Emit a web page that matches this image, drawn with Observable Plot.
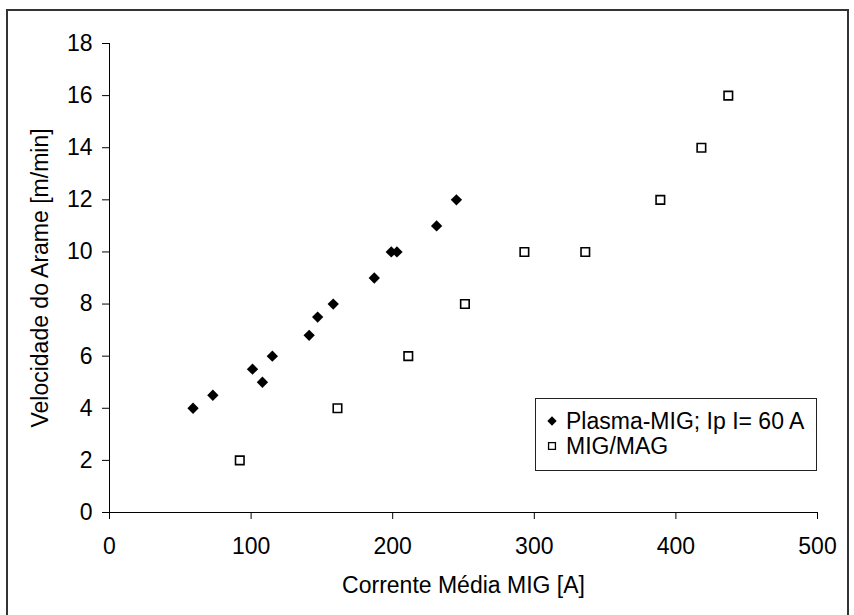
<!DOCTYPE html>
<html><head><meta charset="utf-8">
<script src="https://cdn.jsdelivr.net/npm/d3@7"></script>
<script src="https://cdn.jsdelivr.net/npm/@observablehq/plot@0.6"></script>
<style>
body{margin:0;background:#fff;overflow:hidden;}
#wrap{position:relative;width:854px;height:615px;overflow:hidden;font-family:"Liberation Sans",Arial,sans-serif;background:#fff;}
#chart{position:absolute;left:0;top:0;}
#border{position:absolute;left:6px;top:9px;width:843px;height:640px;border:2px solid #333;box-sizing:border-box;pointer-events:none;}
#legend{position:absolute;left:535px;top:398px;width:282px;height:73px;border:1px solid #222;box-sizing:border-box;background:#fff;font-size:23px;color:#000;}
.row{position:absolute;left:0;height:24px;line-height:24px;white-space:nowrap;}
.row svg{position:absolute;left:10px;top:6px;}
.row span{position:absolute;left:30px;top:0;}
</style>
</head><body>
<div id="wrap">
  <div id="chart"></div>
  <div id="legend"></div>
  <div id="border"></div>
</div>
<script>
const plasmaCurrent = [59, 73, 101, 108, 115, 141, 147, 158, 187, 199, 203, 231, 245];
const plasmaSpeed   = [4, 4.5, 5.5, 5, 6, 6.8, 7.5, 8, 9, 10, 10, 11, 12];
const migCurrent = [92, 161, 211, 251, 293, 336, 389, 418, 437];
const migSpeed   = [2, 4, 6, 8, 10, 10, 12, 14, 16];
const xTicks = [0, 100, 200, 300, 400, 500];
const yTicks = [0, 2, 4, 6, 8, 10, 12, 14, 16, 18];
const seriesNames = ["Plasma-MIG; Ip I= 60 A", "MIG/MAG"];
const xLabel = "Corrente Média MIG [A]";
const yLabel = "Velocidade do Arame [m/min]";

const plasma = plasmaCurrent.map((x, i) => ({x, y: plasmaSpeed[i]}));
const mig = migCurrent.map((x, i) => ({x, y: migSpeed[i]}));

const chart = Plot.plot({
  width: 854,
  height: 615,
  marginLeft: 109,
  marginRight: 37,
  marginTop: 43,
  marginBottom: 103,
  style: {fontSize: "23px", fontFamily: "'Liberation Sans', Arial, sans-serif", color: "#000", background: "transparent"},
  x: {domain: [0, 500]},
  y: {domain: [0, 18]},
  marks: [
    Plot.axisX({ticks: xTicks, tickSize: 7, tickPadding: 18, label: xLabel, labelAnchor: "center", labelOffset: 80, labelArrow: "none"}),
    Plot.axisY({ticks: yTicks, tickSize: 7, tickPadding: 10, label: yLabel, labelAnchor: "center", labelOffset: 78, labelArrow: "none"}),
    Plot.ruleY([0], {stroke: "#000"}),
    Plot.ruleX([0], {stroke: "#000"}),
    Plot.dot(plasma, {x: "x", y: "y", symbol: "diamond2", fill: "#000", stroke: "none", r: 5.1}),
    Plot.dot(mig, {x: "x", y: "y", symbol: "square", fill: "#fff", stroke: "#000", strokeWidth: 1.6, r: 4.8})
  ]
});
document.getElementById("chart").appendChild(chart);

const legend = d3.select("#legend");
const shapes = ["diamond", "square"];
seriesNames.forEach((name, i) => {
  const row = legend.append("div").attr("class", "row").style("top", (10 + i * 25) + "px");
  const svg = row.append("svg").attr("width", 12).attr("height", 12);
  if (shapes[i] === "diamond") {
    svg.append("path").attr("d", d3.symbol(d3.symbolDiamond2, 55)()).attr("transform", "translate(6,6)").attr("fill", "#000");
  } else {
    svg.append("path").attr("d", d3.symbol(d3.symbolSquare2, 60)()).attr("transform", "translate(6,6)").attr("fill", "#fff").attr("stroke", "#000").attr("stroke-width", 1.3);
  }
  row.append("span").text(name);
});
</script>
</body></html>
